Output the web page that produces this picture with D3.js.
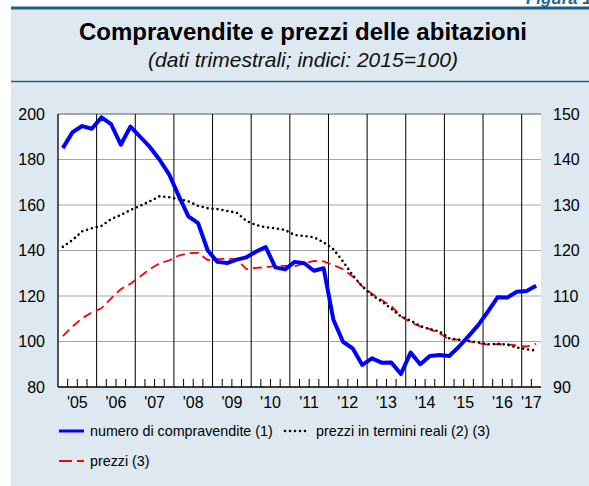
<!DOCTYPE html>
<html>
<head>
<meta charset="utf-8">
<script src="https://cdn.jsdelivr.net/npm/d3@7"></script>
<style>
  body { margin: 0; background: #fff; }
  svg { display: block; font-family: "Liberation Sans", Arial, sans-serif; }
</style>
</head>
<body>
<div id="chart"></div>
<script>
// quarterly data, 2005 Q1 - 2017 Q2
var startYear = 2005;
var yearLabels = ["'05", "'06", "'07", "'08", "'09", "'10", "'11", "'12", "'13", "'14", "'15", "'16", "'17"];

// numero di compravendite (1) - left axis
var compravendite = [185, 192, 194.7, 193.5, 198.5, 195.5, 186.5, 194.5, 190, 185.5,
  180, 173.5, 164, 155, 152, 140, 135, 134.5, 136, 137,
  139.5, 141.5, 132.6, 131.7, 135, 134.4, 131.1, 132.2, 109.7, 99.9,
  97, 89.7, 92.6, 90.7, 90.8, 85.7, 95.1, 90, 93.6, 94.1,
  93.6, 97.7, 102.4, 107.2, 113.1, 119.4, 119.3, 121.9, 122.2, 124.5];

// prezzi in termini reali (2) (3) - right axis
var prezziReali = [120.8, 122.3, 124.2, 124.9, 125.4, 126.9, 127.8, 128.9, 129.8, 130.8,
  131.9, 131.7, 131.3, 130.8, 129.8, 129.3, 129.1, 128.7, 128.3, 126.5,
  125.6, 125.1, 124.9, 124.5, 123.4, 123.2, 122.9, 121.8, 120.3, 117.6,
  114.6, 112.1, 110.2, 108.8, 107.2, 105.5, 104.6, 103.4, 102.7, 102.2,
  100.7, 100.4, 100.1, 99.8, 99.4, 99.5, 99.3, 98.7, 98.3, 98.0];

// prezzi (3) - right axis
var prezzi = [101.2, 103.3, 105.1, 106.4, 107.3, 109.5, 111.5, 112.7, 114.3, 115.9,
  117.2, 117.8, 118.9, 119.4, 119.5, 117.9, 118.1, 118.2, 118.1, 115.9,
  116.2, 116.3, 116.6, 116.6, 116.5, 117.2, 117.7, 117.6, 116.8, 115.9,
  114.3, 112.1, 110.5, 109.1, 107.8, 105.5, 104.2, 103.3, 102.7, 101.8,
  100.4, 100.4, 100.1, 99.6, 99.3, 99.4, 99.4, 99.1, 98.9, 99.5];

var leftTicks = [80, 100, 120, 140, 160, 180, 200];
var rightTicks = [90, 100, 110, 120, 130, 140, 150];

var svgWidth = 589;
var svgHeight = 486;

var margin = { top: 114, right: 48, bottom: 99, left: 58 };
var width = svgWidth - margin.left - margin.right;
var height = svgHeight - margin.top - margin.bottom;

var svg = d3.select("#chart")
  .append("svg")
  .attr("width", svgWidth)
  .attr("height", svgHeight);

// panel background
svg.append("rect")
  .attr("x", 11).attr("y", 8)
  .attr("width", svgWidth - 11).attr("height", svgHeight - 8)
  .attr("fill", "#dde8f0");

svg.append("line")
  .attr("x1", 11).attr("x2", svgWidth)
  .attr("y1", 8).attr("y2", 8)
  .attr("stroke", "#1d5f80").attr("stroke-width", 3);

svg.append("line")
  .attr("x1", 11).attr("x2", svgWidth)
  .attr("y1", 81.5).attr("y2", 81.5)
  .attr("stroke", "#1d5f80").attr("stroke-width", 1.3);

// "Figura 1" label, cropped at the top like in the source page
svg.append("text")
  .attr("x", 592).attr("y", 4)
  .attr("text-anchor", "end")
  .attr("font-size", 17)
  .attr("font-weight", "bold")
  .attr("font-style", "italic")
  .attr("fill", "#1d6a92")
  .text("Figura 1");

svg.append("text")
  .attr("x", 303).attr("y", 40)
  .attr("text-anchor", "middle")
  .attr("font-size", 24)
  .attr("font-weight", "bold")
  .attr("fill", "#000")
  .text("Compravendite e prezzi delle abitazioni");

svg.append("text")
  .attr("x", 303).attr("y", 67)
  .attr("text-anchor", "middle")
  .attr("font-size", 21)
  .attr("font-style", "italic")
  .attr("fill", "#111")
  .text("(dati trimestrali; indici: 2015=100)");

var chartGroup = svg.append("g")
  .attr("transform", `translate(${margin.left}, ${margin.top})`);

// scales
var nQuarters = compravendite.length;
var xScale = d3.scaleLinear().domain([0, nQuarters]).range([0, width]);
var yLeft = d3.scaleLinear().domain([80, 200]).range([height, 0]);
var yRight = d3.scaleLinear().domain([90, 150]).range([height, 0]);

// plot background
chartGroup.append("rect")
  .attr("width", width).attr("height", height)
  .attr("fill", "#fff");

// horizontal grid
chartGroup.selectAll(".grid")
  .data(leftTicks.filter(d => d > 80))
  .join("line")
  .attr("class", "grid")
  .attr("x1", 0).attr("x2", width)
  .attr("y1", d => yLeft(d)).attr("y2", d => yLeft(d))
  .attr("stroke", "#a6a6a6")
  .attr("stroke-width", d => d === 200 ? 2 : 1);

// year separator lines
var yearBounds = d3.range(4, nQuarters, 4);
chartGroup.selectAll(".yearline")
  .data(yearBounds)
  .join("line")
  .attr("class", "yearline")
  .attr("x1", d => xScale(d)).attr("x2", d => xScale(d))
  .attr("y1", 0).attr("y2", height)
  .attr("stroke", "#000").attr("stroke-width", 1);

// quarter ticks
var quarterTicks = d3.range(1, nQuarters).filter(d => d % 4 !== 0);
chartGroup.selectAll(".qtick")
  .data(quarterTicks)
  .join("line")
  .attr("class", "qtick")
  .attr("x1", d => xScale(d)).attr("x2", d => xScale(d))
  .attr("y1", height - 8).attr("y2", height)
  .attr("stroke", "#000").attr("stroke-width", 1);

// axes lines
chartGroup.append("line")
  .attr("x1", 0).attr("x2", 0).attr("y1", 0).attr("y2", height)
  .attr("stroke", "#000").attr("stroke-width", 1.3);
chartGroup.append("line")
  .attr("x1", 0).attr("x2", width).attr("y1", height).attr("y2", height)
  .attr("stroke", "#000").attr("stroke-width", 1.5);

// left and right tick labels
chartGroup.selectAll(".ltick")
  .data(leftTicks)
  .join("text")
  .attr("class", "ltick")
  .attr("x", -13)
  .attr("y", d => yLeft(d) + 5.5)
  .attr("text-anchor", "end")
  .attr("font-size", 16)
  .text(d => d);

chartGroup.selectAll(".rtick")
  .data(rightTicks)
  .join("text")
  .attr("class", "rtick")
  .attr("x", width + 12)
  .attr("y", d => yRight(d) + 5.5)
  .attr("text-anchor", "start")
  .attr("font-size", 16)
  .text(d => d);

// year labels
chartGroup.selectAll(".ylabel")
  .data(yearLabels)
  .join("text")
  .attr("class", "ylabel")
  .attr("x", (d, i) => xScale((i * 4 + Math.min(i * 4 + 4, nQuarters)) / 2))
  .attr("y", height + 21)
  .attr("text-anchor", "middle")
  .attr("font-size", 16)
  .text(d => d);

// lines
var lineLeft = d3.line()
  .x((d, i) => xScale(i + 0.5))
  .y(d => yLeft(d));
var lineRight = d3.line()
  .x((d, i) => xScale(i + 0.5))
  .y(d => yRight(d));

chartGroup.append("path")
  .datum(prezzi)
  .attr("d", lineRight)
  .attr("fill", "none")
  .attr("stroke", "#ff0000")
  .attr("stroke-width", 1.8)
  .attr("stroke-dasharray", "9,5");

chartGroup.append("path")
  .datum(prezziReali)
  .attr("d", lineRight)
  .attr("fill", "none")
  .attr("stroke", "#000")
  .attr("stroke-width", 2.6)
  .attr("stroke-linecap", "round")
  .attr("stroke-dasharray", "0,5");

chartGroup.append("path")
  .datum(compravendite)
  .attr("d", lineLeft)
  .attr("fill", "none")
  .attr("stroke", "#0000ff")
  .attr("stroke-width", 4)
  .attr("stroke-linejoin", "round");

// legend
var legend = svg.append("g");
var legendItems = [
  { label: "numero di compravendite (1)", x: 59, y: 431, color: "#0000ff", width: 3, dash: null, cap: "butt" },
  { label: "prezzi in termini reali (2) (3)", x: 285, y: 431, color: "#000", width: 2.6, dash: "0,5", cap: "round" },
  { label: "prezzi (3)", x: 59, y: 461, color: "#ff0000", width: 1.8, dash: "13,5", cap: "butt" }
];
legendItems.forEach(function(it) {
  legend.append("line")
    .attr("x1", it.x).attr("x2", it.x + 25)
    .attr("y1", it.y).attr("y2", it.y)
    .attr("stroke", it.color)
    .attr("stroke-width", it.width)
    .attr("stroke-linecap", it.cap)
    .attr("stroke-dasharray", it.dash);
  legend.append("text")
    .attr("x", it.x + 31)
    .attr("y", it.y + 5)
    .attr("font-size", 14.3)
    .text(it.label);
});
</script>
</body>
</html>
